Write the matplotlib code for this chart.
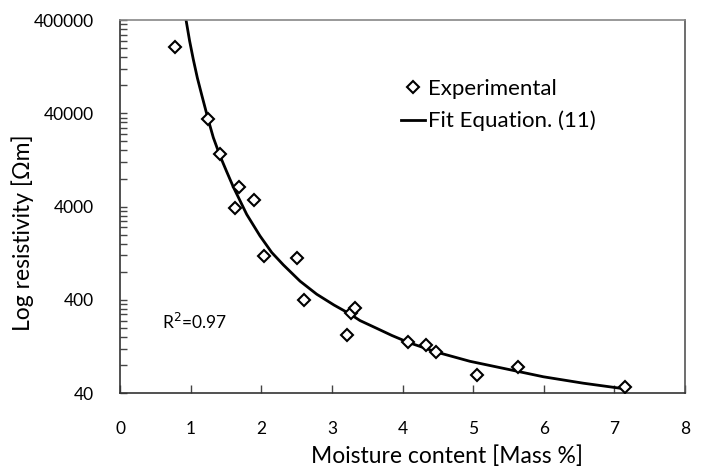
import numpy as np
import matplotlib
matplotlib.use("Agg")
import matplotlib.pyplot as plt
from matplotlib.ticker import FixedLocator, NullFormatter

plt.rcParams['font.family'] = ['Lato', 'DejaVu Sans']

# experimental points
moisture = [0.78, 1.24, 1.42, 1.69, 1.63, 1.89, 2.04, 2.51, 2.60, 3.27,
            3.33, 3.22, 4.08, 4.33, 4.47, 5.06, 5.64, 7.15]
resistivity = [207000, 34700, 14500, 6520, 3830, 4700, 1178, 1112, 394, 286,
               324, 170, 140, 130, 111, 62, 77, 47]

# fit curve
fit_x = [0.935, 0.985, 1.038, 1.095, 1.157, 1.250, 1.321, 1.416, 1.510, 1.604,
         1.794, 1.982, 2.148, 2.312, 2.549, 2.785, 3.030, 3.257, 3.398, 3.635,
         3.850, 4.082, 4.484, 4.956, 5.475, 5.994, 6.560, 7.104]
fit_y = [400000, 240000, 151000, 96000, 63000, 34000, 22000, 14000, 9500, 6500,
         3300, 1940, 1290, 950, 635, 460, 352, 282, 240, 198,
         166, 140, 110, 87.7, 72.5, 59.9, 51.1, 44.9]

y_ticks = [40, 400, 4000, 40000, 400000]
x_ticks = [0, 1, 2, 3, 4, 5, 6, 7, 8]

fig = plt.figure(figsize=(7.04, 4.68), dpi=100)
ax = fig.add_axes([0.1705, 0.160, 0.8025, 0.797])

ax.plot(fit_x, fit_y, color='black', lw=2, label='Fit Equation. (11)', zorder=2)
ax.plot(moisture, resistivity, linestyle='none', marker='D', ms=6.5, mew=1.5,
        mfc='white', mec='black', label='Experimental', zorder=3)

ax.set_yscale('log')
ax.set_ylim(40, 400000)
ax.set_xlim(0, 8)
ax.yaxis.set_major_locator(FixedLocator(y_ticks))
ax.set_yticklabels([str(t) for t in y_ticks])
minors = [t * k for t in y_ticks[:-1] for k in range(2, 10)]
ax.yaxis.set_minor_locator(FixedLocator(minors))
ax.yaxis.set_minor_formatter(NullFormatter())
ax.set_xticks(x_ticks)

ax.tick_params(axis='y', which='both', direction='in', length=5, width=1,
               color='#444444', labelsize=12.5, pad=19, right=False)
ax.tick_params(axis='x', direction='in', length=6, width=1, color='#444444',
               labelsize=12.5, pad=20, top=False)

for s in ['left', 'bottom']:
    ax.spines[s].set_color('#333333')
ax.spines['top'].set_color('#888888')
ax.spines['right'].set_color('#555555')
for s in ax.spines.values():
    s.set_linewidth(1.2)

ax.set_xlabel('Moisture content [Mass %]', fontsize=16.5)
ax.set_ylabel('Log resistivity [Ωm]', fontsize=16.5)
ax.xaxis.set_label_coords(0.579, -0.140)
ax.yaxis.set_label_coords(-0.153, 0.43)

ax.text(0.6, 230, 'R$^2$=0.97', fontsize=12.5, va='center')

handles, labels = ax.get_legend_handles_labels()
ax.legend(handles[::-1], labels[::-1], loc='upper left',
          bbox_to_anchor=(0.462, 0.897), frameon=False, fontsize=16,
          handlelength=1.1, handletextpad=0.1, labelspacing=0.55)

fig.savefig('out.png', dpi=100)
